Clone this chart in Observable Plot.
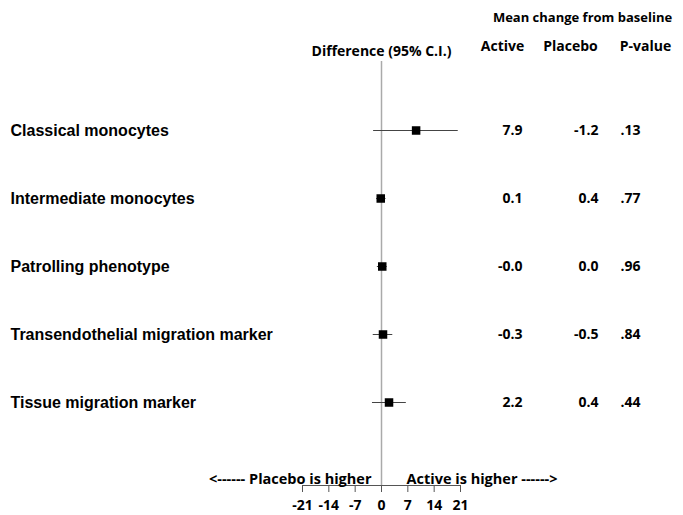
<!DOCTYPE html>
<html>
<head>
<meta charset="utf-8">
<script src="https://cdn.jsdelivr.net/npm/d3@7"></script>
<script src="https://cdn.jsdelivr.net/npm/@observablehq/plot@0.6"></script>
<style>
  html, body { margin: 0; padding: 0; background: #fff; }
  svg { display: block; }
</style>
</head>
<body>
<div id="chart"></div>
<script>
const categories = ["Classical monocytes", "Intermediate monocytes", "Patrolling phenotype", "Transendothelial migration marker", "Tissue migration marker"];
const difference = [9.2, -0.2, 0.2, 0.4, 2.0];
const ciLow = [-2.1, -1.3, -1.1, -2.2, -2.4];
const ciHigh = [20.4, 1.2, 1.5, 3.0, 6.6];
const activeValues = ["7.9", "0.1", "-0.0", "-0.3", "2.2"];
const placeboValues = ["-1.2", "0.4", "0.0", "-0.5", "0.4"];
const pValues = [".13", ".77", ".96", ".84", ".44"];
const xTicks = [-21, -14, -7, 0, 7, 14, 21];

const rows = categories.map((c, i) => ({
  cat: c, diff: difference[i], lo: ciLow[i], hi: ciHigh[i],
  active: activeValues[i], placebo: placeboValues[i], p: pValues[i]
}));

const font = "'Open Sans', sans-serif";
const labelFont = "'Liberation Sans', Arial, sans-serif";
const W = 683, H = 515;
const mL = 302, mR = 223, mT = 61, mB = 30;
const fs = 14;

const hdr = (txt, cx, cy, size) => Plot.text([txt], { text: d => d, frameAnchor: "top-left", dx: cx - mL, dy: cy - mT, textAnchor: "middle", lineAnchor: "middle", fontSize: size || fs, fontWeight: "bold", fill: "#000" });

const plot = Plot.plot({
  width: W, height: H,
  marginLeft: mL, marginRight: mR, marginTop: mT, marginBottom: mB,
  style: { fontFamily: font, fontWeight: "bold", fontSize: "14px", color: "#000", background: "#fff", overflow: "visible" },
  x: { domain: [-21, 21], ticks: xTicks, axis: null },
  y: { type: "point", domain: categories, range: [130, 402], padding: 0, axis: null },
  marks: [
    Plot.ruleX([0], { stroke: "#aaa", strokeWidth: 1.5 }),
    Plot.frame({ anchor: "bottom", stroke: "#555" }),
    Plot.axisX({ ticks: xTicks, tickFormat: d => String(d), tickSize: 7, tickPadding: 8, stroke: "#555", fill: "#000", fontSize: fs, fontWeight: "bold" }),
    Plot.ruleY(rows, { y: "cat", x1: "lo", x2: "hi", stroke: "#444", strokeWidth: 1 }),
    Plot.dot(rows, { y: "cat", x: "diff", symbol: "square", r: 4.8, fill: "#000", stroke: "none" }),
    Plot.text(rows, { y: "cat", text: "cat", frameAnchor: "left", dx: 10 - mL, textAnchor: "start", fontFamily: labelFont, fontSize: 16, fontWeight: "bold", fill: "#000" }),
    Plot.text(rows, { y: "cat", text: "active", frameAnchor: "left", dx: 522 - mL, textAnchor: "end", fontSize: fs, fontWeight: "bold", fill: "#000" }),
    Plot.text(rows, { y: "cat", text: "placebo", frameAnchor: "left", dx: 598 - mL, textAnchor: "end", fontSize: fs, fontWeight: "bold", fill: "#000" }),
    Plot.text(rows, { y: "cat", text: "p", frameAnchor: "left", dx: 620 - mL, textAnchor: "start", fontSize: fs, fontWeight: "bold", fill: "#000" }),
    Plot.text(["Difference (95% C.I.)"], { x: [0], text: d => d, frameAnchor: "top", dy: 51 - mT, lineAnchor: "middle", fontSize: fs, fontWeight: "bold", fill: "#000" }),
    hdr("Mean change from baseline", 582, 17, 13),
    hdr("Active", 502, 46),
    hdr("Placebo", 570, 46),
    hdr("P-value", 645, 46),
    Plot.text(["<------ Placebo is higher"], { x: [0], text: d => d, frameAnchor: "bottom", dx: -10, dy: -6, lineAnchor: "middle", textAnchor: "end", fontSize: 14.5, fontWeight: "bold", fill: "#000" }),
    Plot.text(["Active is higher ------>"], { x: [0], text: d => d, frameAnchor: "bottom", dx: 25, dy: -6, lineAnchor: "middle", textAnchor: "start", fontSize: 14.5, fontWeight: "bold", fill: "#000" })
  ]
});
document.getElementById("chart").appendChild(plot);
</script>
</body>
</html>
